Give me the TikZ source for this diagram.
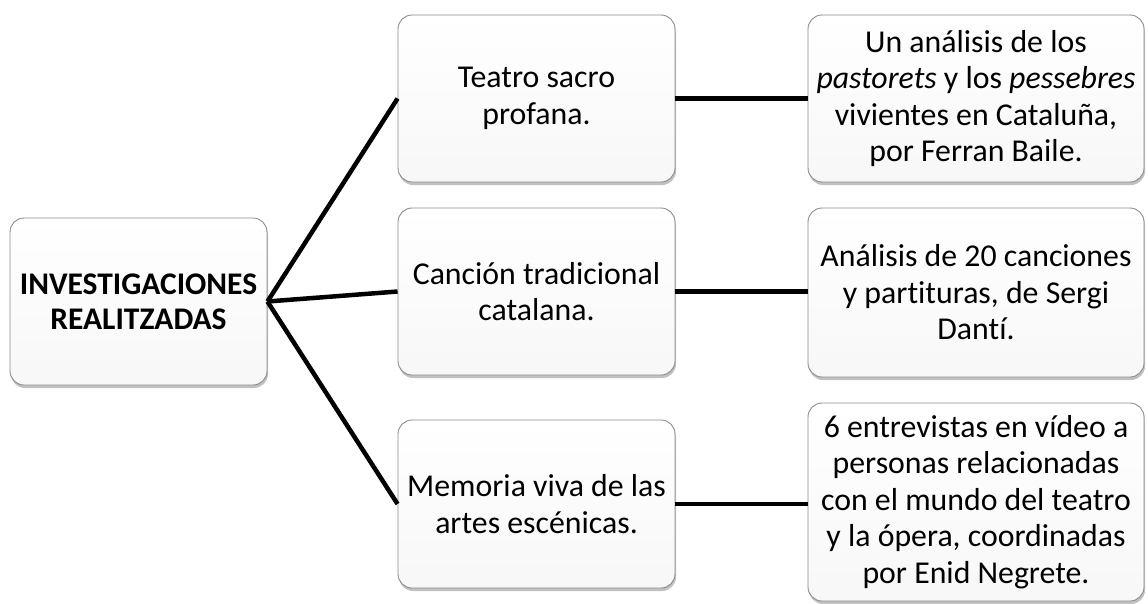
\documentclass[tikz,border=0pt]{standalone}
\usepackage{fontspec}
\setmainfont{Carlito}[Ligatures=NoCommon]
\usetikzlibrary{shadows}
\begin{document}
\begin{tikzpicture}[x=1pt,y=-1pt,
  box/.style={draw=black!45, line width=0.9pt, rounded corners=14pt,
    top color=white, bottom color=black!3, align=center,
    inner sep=2pt, font=\fontsize{31.8}{36.5}\selectfont,
    drop shadow={shadow xshift=1pt, shadow yshift=-3pt, fill=black!40, opacity=0.6}},
  link/.style={line width=4.5pt, black}]
\useasboundingbox (0,0) rectangle (1148,603);
\fill[white] (0,0) rectangle (1148,603);
\node[box, minimum width=257pt, minimum height=167pt, font=\fontsize{31.5}{35}\selectfont\bfseries]
  (root) at (138.5,301.5) {INVESTIGACIONES\\REALITZADAS};
\node[box, minimum width=277pt, minimum height=167pt] (m1) at (536.5,98.5) {Teatro sacro\\profana.};
\node[box, minimum width=277pt, minimum height=167pt] (m2) at (536.5,291.5) {Canción tradicional\\catalana.};
\node[box, minimum width=277pt, minimum height=168pt] (m3) at (536.5,504) {Memoria viva de las\\artes escénicas.};
\node[box, minimum width=336pt, minimum height=167pt] (r1) at (976,98.5)
  {Un análisis de los\\\textit{pastorets} y los \textit{pessebres}\\vivientes en Cataluña,\\por Ferran Baile.};
\node[box, minimum width=336pt, minimum height=169pt] (r2) at (976,292.5)
  {Análisis de 20 canciones\\y partituras, de Sergi\\Dantí.};
\node[box, minimum width=336pt, minimum height=198pt] (r3) at (976,502)
  {6 entrevistas en vídeo a\\personas relacionadas\\con el mundo del teatro\\y la ópera, coordinadas\\por Enid Negrete.};
\draw[link] (root.east) -- (m1.west);
\draw[link] (root.east) -- (m2.west);
\draw[link] (root.east) -- (m3.west);
\draw[link] (m1.east) -- (r1.west |- m1.east);
\draw[link] (m2.east) -- (r2.west |- m2.east);
\draw[link] (m3.east) -- (r3.west |- m3.east);
\end{tikzpicture}
\end{document}
